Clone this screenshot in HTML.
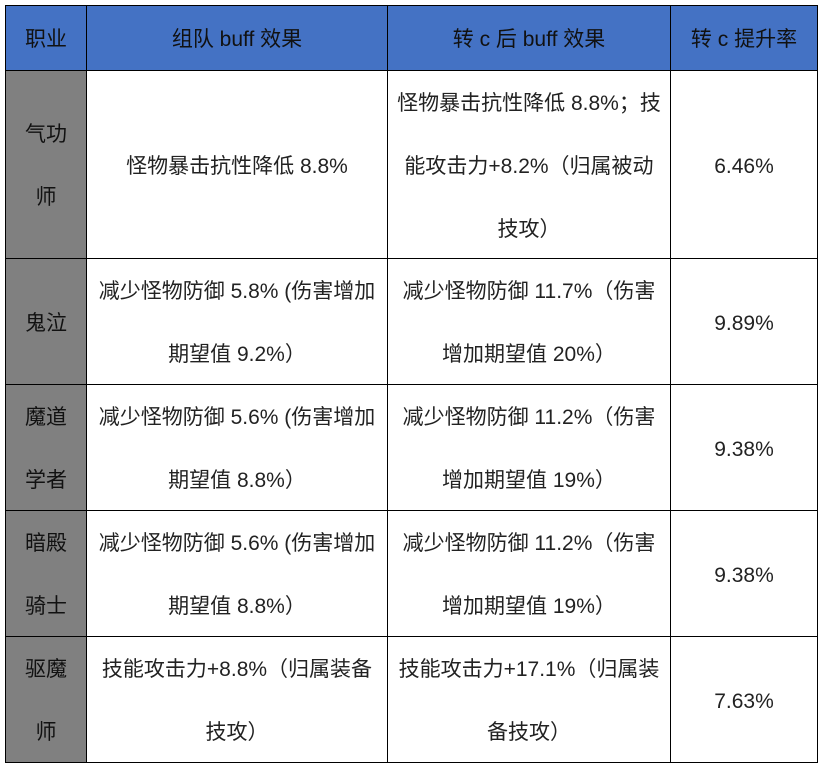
<!DOCTYPE html>
<html><head><meta charset="utf-8"><style>
html,body{margin:0;padding:0;background:#fff;width:822px;height:766px;overflow:hidden}
.c{position:absolute;box-sizing:border-box;border:1.5px solid #000;display:flex;align-items:center;justify-content:center;text-align:center;font-family:"Liberation Sans","Noto Sans CJK SC",sans-serif;font-size:21px;color:#222;line-height:63px;padding-top:3px}
.h{background:#4472C4;color:#111}
.g{background:#808080;color:#111}
</style></head><body>
<div class="c h" style="left:5px;top:5px;width:82px;height:66px">职业</div>
<div class="c h" style="left:86px;top:5px;width:302px;height:66px">组队 buff 效果</div>
<div class="c h" style="left:387px;top:5px;width:284px;height:66px">转 c 后 buff 效果</div>
<div class="c h" style="left:670px;top:5px;width:148px;height:66px">转 c 提升率</div>

<div class="c g" style="left:5px;top:70px;width:82px;height:189px">气功<br>师</div>
<div class="c" style="left:86px;top:70px;width:302px;height:189px">怪物暴击抗性降低 8.8%</div>
<div class="c" style="left:387px;top:70px;width:284px;height:189px">怪物暴击抗性降低 8.8%；技<br>能攻击力+8.2%（归属被动<br>技攻）</div>
<div class="c" style="left:670px;top:70px;width:148px;height:189px">6.46%</div>

<div class="c g" style="left:5px;top:258px;width:82px;height:127px">鬼泣</div>
<div class="c" style="left:86px;top:258px;width:302px;height:127px">减少怪物防御 5.8% (伤害增加<br>期望值 9.2%）</div>
<div class="c" style="left:387px;top:258px;width:284px;height:127px">减少怪物防御 11.7%（伤害<br>增加期望值 20%）</div>
<div class="c" style="left:670px;top:258px;width:148px;height:127px">9.89%</div>

<div class="c g" style="left:5px;top:384px;width:82px;height:127px">魔道<br>学者</div>
<div class="c" style="left:86px;top:384px;width:302px;height:127px">减少怪物防御 5.6% (伤害增加<br>期望值 8.8%）</div>
<div class="c" style="left:387px;top:384px;width:284px;height:127px">减少怪物防御 11.2%（伤害<br>增加期望值 19%）</div>
<div class="c" style="left:670px;top:384px;width:148px;height:127px">9.38%</div>

<div class="c g" style="left:5px;top:510px;width:82px;height:127px">暗殿<br>骑士</div>
<div class="c" style="left:86px;top:510px;width:302px;height:127px">减少怪物防御 5.6% (伤害增加<br>期望值 8.8%）</div>
<div class="c" style="left:387px;top:510px;width:284px;height:127px">减少怪物防御 11.2%（伤害<br>增加期望值 19%）</div>
<div class="c" style="left:670px;top:510px;width:148px;height:127px">9.38%</div>

<div class="c g" style="left:5px;top:636px;width:82px;height:127px">驱魔<br>师</div>
<div class="c" style="left:86px;top:636px;width:302px;height:127px">技能攻击力+8.8%（归属装备<br>技攻）</div>
<div class="c" style="left:387px;top:636px;width:284px;height:127px">技能攻击力+17.1%（归属装<br>备技攻）</div>
<div class="c" style="left:670px;top:636px;width:148px;height:127px">7.63%</div>
</body></html>
